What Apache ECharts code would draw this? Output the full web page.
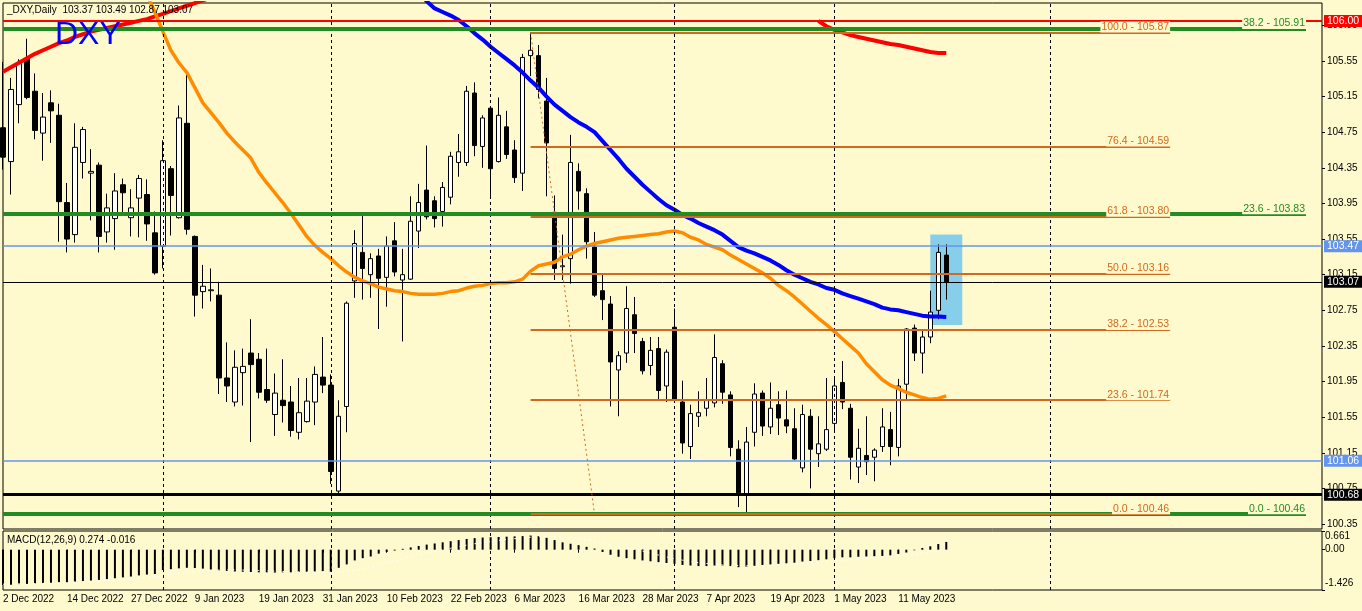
<!DOCTYPE html>
<html><head><meta charset="utf-8">
<script src="https://cdn.jsdelivr.net/npm/echarts@6/dist/echarts.min.js"></script>
<style>html,body{margin:0;padding:0;background:#FFFACD;}#c{width:1362px;height:611px;}</style>
</head><body><div id="c"></div>
<script>
// ---------- DATA ----------
const dates = [
'2 Dec 2022','5 Dec 2022','6 Dec 2022','7 Dec 2022','8 Dec 2022','9 Dec 2022',
'12 Dec 2022','13 Dec 2022','14 Dec 2022','15 Dec 2022','16 Dec 2022',
'19 Dec 2022','20 Dec 2022','21 Dec 2022','22 Dec 2022','23 Dec 2022',
'27 Dec 2022','28 Dec 2022','29 Dec 2022','30 Dec 2022',
'3 Jan 2023','4 Jan 2023','5 Jan 2023','6 Jan 2023',
'9 Jan 2023','10 Jan 2023','11 Jan 2023','12 Jan 2023','13 Jan 2023',
'16 Jan 2023','17 Jan 2023','18 Jan 2023','19 Jan 2023','20 Jan 2023',
'23 Jan 2023','24 Jan 2023','25 Jan 2023','26 Jan 2023','27 Jan 2023',
'30 Jan 2023','31 Jan 2023','1 Feb 2023','2 Feb 2023','3 Feb 2023',
'6 Feb 2023','7 Feb 2023','8 Feb 2023','9 Feb 2023','10 Feb 2023',
'13 Feb 2023','14 Feb 2023','15 Feb 2023','16 Feb 2023','17 Feb 2023',
'20 Feb 2023','21 Feb 2023','22 Feb 2023','23 Feb 2023','24 Feb 2023',
'27 Feb 2023','28 Feb 2023','1 Mar 2023','2 Mar 2023','3 Mar 2023',
'6 Mar 2023','7 Mar 2023','8 Mar 2023','9 Mar 2023','10 Mar 2023',
'13 Mar 2023','14 Mar 2023','15 Mar 2023','16 Mar 2023','17 Mar 2023',
'20 Mar 2023','21 Mar 2023','22 Mar 2023','23 Mar 2023','24 Mar 2023',
'27 Mar 2023','28 Mar 2023','29 Mar 2023','30 Mar 2023','31 Mar 2023',
'3 Apr 2023','4 Apr 2023','5 Apr 2023','6 Apr 2023','7 Apr 2023',
'10 Apr 2023','11 Apr 2023','12 Apr 2023','13 Apr 2023','14 Apr 2023',
'17 Apr 2023','18 Apr 2023','19 Apr 2023','20 Apr 2023','21 Apr 2023',
'24 Apr 2023','25 Apr 2023','26 Apr 2023','27 Apr 2023','28 Apr 2023',
'1 May 2023','2 May 2023','3 May 2023','4 May 2023','5 May 2023',
'8 May 2023','9 May 2023','10 May 2023','11 May 2023','12 May 2023',
'15 May 2023','16 May 2023','17 May 2023','18 May 2023','19 May 2023'
];
const opens = [
104.80,104.42,105.06,105.57,105.21,104.74,105.08,104.94,103.96,103.60,
104.41,104.29,104.38,103.63,103.78,104.16,103.79,104.01,104.05,103.62,
103.47,104.34,103.79,104.85,103.58,102.96,102.97,102.92,101.99,101.72,
102.05,102.27,102.20,101.86,101.58,101.74,101.72,101.38,101.50,101.72,
102.00,101.91,100.72,101.67,103.08,103.40,103.15,103.36,103.12,103.53,
103.09,103.10,103.64,104.10,103.98,103.86,104.02,104.41,104.41,105.19,
104.59,105.02,104.42,104.81,104.55,104.29,105.61,105.61,105.10,103.85,
103.24,103.33,104.31,104.06,103.46,102.97,102.82,102.08,102.27,102.70,
102.40,102.13,102.32,101.90,102.56,101.72,101.22,101.56,101.65,101.71,
102.15,101.80,101.19,100.67,101.38,101.82,101.44,101.69,101.52,101.42,
100.98,101.56,101.14,101.19,101.48,101.94,101.65,100.99,101.12,101.10,
101.22,101.41,101.21,101.92,102.55,102.27,102.45,102.75,103.37];
const highs = [
105.54,105.36,105.57,105.80,105.41,105.19,105.22,105.07,104.18,104.85,
104.81,104.56,104.41,104.06,104.29,104.23,104.11,104.27,104.22,103.86,
104.66,104.37,105.05,105.40,103.59,103.26,103.22,103.07,102.39,102.30,
102.32,102.65,102.27,102.32,102.04,102.20,101.90,101.99,101.99,102.12,
102.45,102.03,101.74,102.85,103.65,103.85,103.39,103.44,103.58,103.74,
103.44,104.03,104.17,104.60,104.03,104.19,104.53,104.73,105.27,105.31,
104.94,105.03,105.14,104.99,104.66,105.63,105.87,105.73,105.36,104.04,
103.60,104.72,104.40,104.12,103.63,103.15,102.91,102.29,103.02,102.90,
102.44,102.45,102.45,102.31,102.77,101.96,101.69,101.84,101.99,102.48,
102.19,101.84,101.29,101.44,101.93,101.85,101.94,101.84,101.85,101.65,
101.69,101.64,101.56,101.99,101.98,102.18,101.70,101.42,101.56,101.20,
101.65,101.61,101.98,102.55,102.59,102.54,102.97,103.49,103.49];
const lows = [
104.33,104.05,104.85,105.12,104.67,104.43,104.63,103.52,103.40,103.51,
104.23,103.76,103.40,103.51,103.43,103.81,103.58,103.57,103.53,103.15,
103.22,103.59,103.78,103.60,102.68,102.77,102.85,101.81,101.72,101.67,
101.68,101.27,101.76,101.71,101.34,101.49,101.33,101.30,101.49,101.46,
101.82,100.80,100.69,101.38,102.89,102.87,102.89,102.54,102.79,103.13,
102.40,103.09,103.45,103.77,103.68,103.69,103.94,104.25,104.37,104.48,
104.35,104.03,104.41,104.45,104.18,104.09,105.38,105.13,104.03,103.09,
103.09,103.05,103.88,103.33,102.90,102.64,101.67,101.56,102.16,102.27,
102.03,102.02,101.74,101.72,101.72,101.14,101.08,101.44,101.56,101.66,
101.70,101.11,100.54,100.46,101.22,101.34,101.36,101.35,101.37,101.07,
100.93,100.75,100.99,101.17,101.39,101.64,100.85,100.81,100.90,100.83,
101.16,101.01,101.11,101.75,102.18,102.04,102.38,102.65,102.87];
const closes = [
104.47,105.23,105.52,105.14,104.77,104.92,104.99,103.97,103.55,104.58,
104.78,104.31,103.58,103.90,104.09,104.07,103.90,104.23,103.72,103.17,
104.43,104.04,104.91,103.66,102.92,103.02,102.98,101.99,101.90,102.11,
102.12,102.14,101.83,101.74,101.82,101.68,101.40,101.60,101.73,102.03,
101.91,100.94,101.56,102.83,103.50,103.22,103.33,103.11,103.47,103.18,
103.15,103.75,103.96,103.80,103.78,104.13,104.48,104.53,105.21,104.60,
104.91,104.34,104.94,104.50,104.24,105.59,105.67,105.23,104.63,103.22,
103.25,104.41,104.09,103.52,102.92,102.87,102.17,102.24,102.77,102.49,
102.07,102.30,101.85,102.28,101.74,101.26,101.59,101.60,101.74,102.22,
101.83,101.21,100.70,101.27,101.81,101.45,101.65,101.54,101.45,101.08,
101.58,101.19,101.25,101.41,101.90,101.72,101.10,101.20,101.05,101.18,
101.44,101.22,101.90,102.54,102.27,102.45,102.73,103.40,103.07];
// moving averages (null = above the visible price range)
const maRed = [
105.43,105.48,105.53,105.58,105.63,105.67,105.71,105.75,105.78,105.82,
105.85,105.88,105.90,105.92,105.94,105.96,105.98,106.00,106.02,106.05,
106.08,106.11,106.14,106.17,106.20,106.23,106.26,106.29,null,null,
null,null,null,null,null,null,null,null,null,null,
null,null,null,null,null,null,null,null,null,null,
null,null,null,null,null,null,null,null,null,null,
null,null,null,null,null,null,null,null,null,null,
null,null,null,null,null,null,null,null,null,null,
null,null,null,null,null,null,null,null,null,null,
null,null,null,null,null,null,null,null,null,null,
null,null,106.00,105.94,105.90,105.87,105.84,105.82,105.80,105.78,
105.76,105.74,105.73,105.71,105.69,105.67,105.65,105.64,105.64];
const maBlue = [
null,null,null,null,null,null,null,null,null,null,
null,null,null,null,null,null,null,null,null,null,
null,null,null,null,null,null,null,null,null,null,
null,null,null,null,null,null,null,null,null,null,
null,null,null,null,null,null,null,null,null,null,
null,106.45,106.33,106.22,106.14,106.10,106.06,106.01,105.94,105.86,
105.79,105.71,105.64,105.57,105.50,105.42,105.33,105.25,105.15,105.06,
104.99,104.92,104.86,104.81,104.75,104.65,104.55,104.45,104.34,104.25,
104.16,104.08,104.00,103.93,103.88,103.82,103.78,103.73,103.69,103.65,
103.60,103.53,103.46,103.42,103.39,103.35,103.31,103.26,103.20,103.15,
103.11,103.07,103.04,103.00,102.98,102.94,102.91,102.88,102.85,102.82,
102.78,102.76,102.75,102.73,102.71,102.69,102.68,102.68,102.675];
const maOrange = [
null,null,null,null,null,null,null,null,null,null,
null,null,null,null,null,null,null,null,106.29,106.10,
105.88,105.67,105.53,105.42,105.25,105.08,104.97,104.86,104.74,104.64,
104.55,104.46,104.30,104.18,104.07,103.96,103.84,103.71,103.58,103.48,
103.40,103.33,103.25,103.18,103.12,103.08,103.05,103.01,102.99,102.97,
102.96,102.94,102.93,102.93,102.93,102.94,102.96,102.97,103.00,103.02,
103.03,103.05,103.06,103.06,103.07,103.10,103.19,103.25,103.27,103.29,
103.35,103.38,103.43,103.47,103.50,103.52,103.54,103.56,103.57,103.58,
103.59,103.60,103.61,103.63,103.64,103.62,103.57,103.54,103.49,103.46,
103.43,103.37,103.32,103.27,103.22,103.17,103.11,103.03,102.97,102.90,
102.82,102.74,102.66,102.59,102.51,102.43,102.35,102.27,102.15,102.06,
101.97,101.91,101.87,101.83,101.80,101.77,101.75,101.76,101.79];
const macdMain = [
-1.25,-1.24,-1.22,-1.21,-1.19,-1.18,-1.17,-1.16,-1.15,-1.13,
-1.11,-1.09,-1.07,-1.04,-1.01,-0.98,-0.95,-0.91,-0.88,-0.86,
-0.72,-0.69,-0.66,-0.64,-0.65,-0.67,-0.70,-0.73,-0.75,-0.77,
-0.78,-0.79,-0.80,-0.80,-0.81,-0.80,-0.80,-0.79,-0.78,-0.77,
-0.76,-0.78,-0.64,-0.52,-0.38,-0.30,-0.24,-0.14,-0.08,-0.03,
0.03,0.08,0.13,0.18,0.22,0.26,0.30,0.34,0.38,0.41,
0.43,0.44,0.45,0.46,0.47,0.48,0.50,0.48,0.42,0.34,
0.26,0.21,0.16,0.10,0.04,-0.08,-0.18,-0.25,-0.30,-0.34,
-0.38,-0.41,-0.44,-0.47,-0.50,-0.54,-0.56,-0.58,-0.58,-0.56,
-0.56,-0.58,-0.62,-0.60,-0.57,-0.54,-0.52,-0.50,-0.48,-0.46,
-0.42,-0.40,-0.37,-0.34,-0.30,-0.27,-0.27,-0.25,-0.24,-0.23,
-0.22,-0.20,-0.15,-0.10,-0.02,0.06,0.12,0.20,0.274];
const macdSignal = [
-1.22,-1.22,-1.21,-1.21,-1.20,-1.19,-1.18,-1.17,-1.16,-1.15,
-1.14,-1.13,-1.11,-1.09,-1.07,-1.05,-1.03,-1.00,-0.98,-0.95,
-0.92,-0.88,-0.85,-0.81,-0.78,-0.75,-0.73,-0.72,-0.71,-0.71,
-0.72,-0.73,-0.74,-0.75,-0.76,-0.77,-0.78,-0.78,-0.79,-0.79,
-0.79,-0.79,-0.78,-0.76,-0.72,-0.67,-0.61,-0.54,-0.47,-0.39,
-0.32,-0.25,-0.18,-0.12,-0.06,0.00,0.05,0.11,0.16,0.21,
0.25,0.29,0.33,0.36,0.39,0.42,0.44,0.46,0.46,0.46,
0.45,0.43,0.40,0.36,0.31,0.25,0.19,0.12,0.06,0.01,
-0.05,-0.12,-0.19,-0.26,-0.32,-0.37,-0.42,-0.46,-0.49,-0.52,
-0.54,-0.55,-0.56,-0.57,-0.57,-0.57,-0.56,-0.55,-0.54,-0.52,
-0.50,-0.48,-0.45,-0.43,-0.40,-0.37,-0.35,-0.32,-0.30,-0.28,
-0.26,-0.24,-0.22,-0.20,-0.17,-0.13,-0.09,-0.05,-0.016];
const priceTicks = [100.35,100.75,101.15,101.55,101.95,102.35,102.75,103.15,103.55,103.95,104.35,104.75,105.15,105.55,105.95];
const macdTicks = [0.661, 0, -1.426];
const macdTickLabels = ['0.661','0.00','-1.426'];
const tagLevels = [106.00, 103.47, 103.07, 101.06, 100.68];
const greenLevels = [105.91, 103.83, 100.46];
const greenRatios = ['38.2','23.6','0.0'];
const fibRatios = ['100.0','76.4','61.8','50.0','38.2','23.6','0.0'];
const fibLevels = [105.87,104.59,103.80,103.16,102.53,101.74,100.46];
const fibAnchors = {startIdx: 66, endIdx: 146, lowIdx: 74};
const separatorIdx = [20, 41, 61, 84, 104, 131];
const boxRange = {fromIdx: 116, toIdx: 120, top: 103.60, bottom: 102.585};

// ---------- CHART ----------
const N = 166;
const cats = dates.slice();
for (let i = dates.length; i < N; i++) cats.push('+' + i);
const last = dates.length - 1;
const FONT = 'Liberation Sans';
const BG = '#FFFACD';
const candleData = opens.map((o, i) => [o, closes[i], lows[i], highs[i]]);

const tagStyles = [
  {color:'#FF0000', width:2, bg:'#FF0000'},
  {color:'#6495ED', width:1.5, bg:'#6495ED'},
  {color:'#000000', width:1, bg:'#000000'},
  {color:'#6495ED', width:1.5, bg:'#6495ED'},
  {color:'#000000', width:3, bg:'#000000'}
];
const lvlLines = [];
tagLevels.forEach((v, i) => {
  const s = tagStyles[i];
  lvlLines.push({yAxis: v, lineStyle:{color:s.color, width:s.width, type:'solid'},
    label:{show:true, position:'end', distance:2, formatter: v.toFixed(2), color:'#fff',
      backgroundColor:s.bg, padding:[1,3,0,3], fontSize:10.5, fontFamily:FONT}});
});
greenLevels.forEach((v, i) => {
  const lbl = {show:true, position:'insideEndTop', distance:[0,0], formatter: greenRatios[i] + ' - ' + v.toFixed(2),
    color:'#228B22', fontSize:10.5, fontFamily:FONT, backgroundColor:BG, padding:[0,1,0,1]};
  lvlLines.push([{coord:[0, v], lineStyle:{color:'#228B22', width:4, type:'solid'}, label:lbl},
                 {coord:[163, v], lineStyle:{color:'#228B22', width:4, type:'solid'}, label:lbl}]);
});
fibLevels.forEach((v, i) => {
  const lbl = {show:true, position:'insideEndTop', distance:[0,0], formatter: fibRatios[i] + ' - ' + v.toFixed(2),
    color:'#D2691E', fontSize:10.5, fontFamily:FONT, backgroundColor:BG, padding:[0,1,0,1]};
  lvlLines.push([{coord:[fibAnchors.startIdx, v], lineStyle:{color:'#D2691E', width:2, type:'solid'}, label:lbl},
                 {coord:[fibAnchors.endIdx, v], lineStyle:{color:'#D2691E', width:2, type:'solid'}, label:lbl}]);
});
lvlLines.push([{coord:[fibAnchors.startIdx, fibLevels[0]], lineStyle:{color:'#D2691E', width:1, type:[2,3]}, label:{show:false}},
               {coord:[fibAnchors.lowIdx, fibLevels[fibLevels.length-1]], lineStyle:{color:'#D2691E', width:1, type:[2,3]}, label:{show:false}}]);

const sepLines = separatorIdx.map(i => ({xAxis: i}));
const sepStyle = {color:'#000', width:1, type:[3,3]};

const option = {
  animation: false,
  backgroundColor: BG,
  textStyle: {fontFamily: FONT},
  grid: [
    {left:3, right:40, top:3, height:526, show:true, borderColor:'#000', borderWidth:1, backgroundColor:'transparent'},
    {left:3, right:40, top:531, height:59, show:true, borderColor:'#000', borderWidth:1, backgroundColor:'transparent'}
  ],
  xAxis: [
    {type:'category', gridIndex:0, data:cats, boundaryGap:false,
     axisLine:{show:false}, axisTick:{show:false}, axisLabel:{show:false}, splitLine:{show:false}},
    {type:'category', gridIndex:1, data:cats, boundaryGap:false,
     axisLine:{show:false},
     axisTick:{show:true, length:3, interval:(idx)=> idx % 8 === 0 && idx <= last, lineStyle:{color:'#000'}},
     axisLabel:{show:true, interval:(idx)=> idx % 8 === 0 && idx <= last, align:'left', margin:4,
       color:'#000', fontSize:10, fontFamily:FONT},
     splitLine:{show:false}}
  ],
  yAxis: [
    {type:'value', gridIndex:0, position:'right', min:100.294, max:106.201, scale:true,
     axisLine:{show:false}, splitLine:{show:false},
     axisTick:{show:true, length:3, customValues:priceTicks, lineStyle:{color:'#000'}},
     axisLabel:{show:true, customValues:priceTicks, formatter:(v)=>v.toFixed(2), margin:5,
       color:'#000', fontSize:10, fontFamily:FONT}},
    {type:'value', gridIndex:1, position:'right', min:-1.426, max:0.661,
     axisLine:{show:false}, splitLine:{show:false},
     axisTick:{show:true, length:3, customValues:macdTicks, lineStyle:{color:'#000'}},
     axisLabel:{show:true, customValues:macdTicks, margin:3, color:'#000', fontSize:10, fontFamily:FONT,
       formatter:(v)=>{ const k = macdTicks.indexOf(v); const t = macdTickLabels[k] || String(v);
         return k === 0 ? '{t|' + t + '}' : (k === 2 ? '{b|' + t + '}' : '{m|' + t + '}'); },
       rich:{t:{padding:[11,0,0,0], fontSize:10, fontFamily:FONT, color:'#000'},
             b:{padding:[0,0,14,0], fontSize:10, fontFamily:FONT, color:'#000'},
             m:{fontSize:10, fontFamily:FONT, color:'#000'}}}}
  ],
  graphic: [
    {type:'text', left:7, top:5, style:{text:'_DXY,Daily  ' + opens[last].toFixed(2) + ' ' + highs[last].toFixed(2) + ' ' + lows[last].toFixed(2) + ' ' + closes[last].toFixed(2),
      fill:'#000', font:'10px "Liberation Sans"'}, z:10},
    {type:'text', left:55, top:19, style:{text:'DXY', fill:'#0000FF', font:'32px "Liberation Sans"'}, z:10},
    {type:'text', left:7, top:535, style:{text:'MACD(12,26,9) ' + macdMain[last].toFixed(3) + ' ' + macdSignal[last].toFixed(3),
      fill:'#000', font:'10px "Liberation Sans"'}, z:10}
  ],
  series: [
    {type:'line', name:'bg', xAxisIndex:0, yAxisIndex:0, data:[], z:1, silent:true, clip:false,
     markArea:{silent:true, itemStyle:{color:'#87CEEB'},
       data:[[{coord:[boxRange.fromIdx, boxRange.top]}, {coord:[boxRange.toIdx, boxRange.bottom]}]]},
     markLine:{silent:true, symbol:['none','none'], lineStyle:sepStyle, label:{show:false}, data:sepLines}},
    {type:'candlestick', name:'DXY', xAxisIndex:0, yAxisIndex:0, data:candleData, barWidth:5, z:3,
     itemStyle:{color:'#FFFFFF', color0:'#000000', borderColor:'#000000', borderColor0:'#000000', borderWidth:1}},
    {type:'line', name:'MA red', data:maRed, xAxisIndex:0, yAxisIndex:0, symbol:'none', z:4,
     lineStyle:{color:'#FF0000', width:4}, connectNulls:false},
    {type:'line', name:'MA blue', data:maBlue, xAxisIndex:0, yAxisIndex:0, symbol:'none', z:4,
     lineStyle:{color:'#0000FF', width:4}},
    {type:'line', name:'MA orange', data:maOrange, xAxisIndex:0, yAxisIndex:0, symbol:'none', z:4,
     lineStyle:{color:'#FF8C00', width:3.5}},
    {type:'line', name:'levels', xAxisIndex:0, yAxisIndex:0, data:[], z:5, silent:true, clip:false,
     markLine:{silent:true, symbol:['none','none'], animation:false, data:lvlLines}},
    {type:'bar', name:'MACD', xAxisIndex:1, yAxisIndex:1, data:macdMain, barWidth:2, z:3,
     itemStyle:{color:'#000'},
     markLine:{silent:true, symbol:['none','none'], lineStyle:sepStyle, label:{show:false}, data:sepLines}},
    {type:'line', name:'Signal', xAxisIndex:1, yAxisIndex:1, data:macdSignal, symbol:'none', z:4,
     lineStyle:{color:'#FFFFFF', width:1, type:[2,3]}}
  ]
};
const chart = echarts.init(document.getElementById('c'));
chart.setOption(option);
</script></body></html>
